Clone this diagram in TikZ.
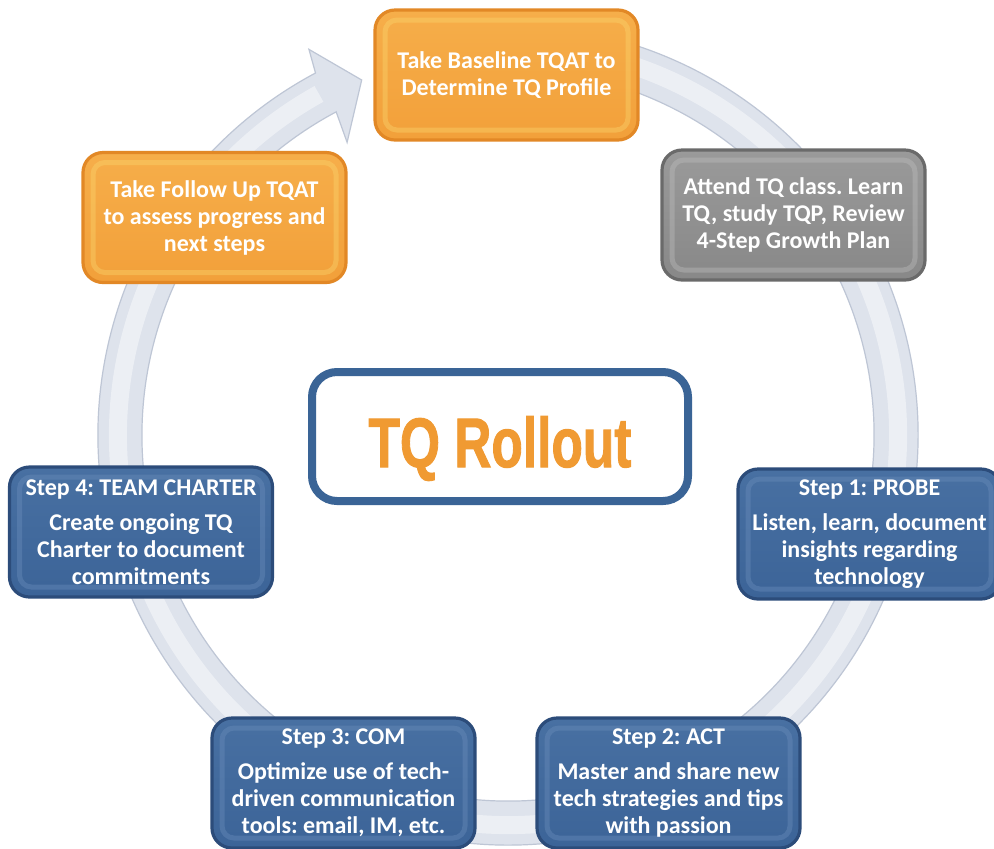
\documentclass[tikz,border=0pt]{standalone}
\usepackage{fontspec}
\setmainfont{Carlito}
\newfontfamily\titlefont[BoldFeatures={FakeBold=1.6}]{Liberation Sans}
\frenchspacing

% couleurs
\definecolor{OrangeFill}{RGB}{242,160,58}
\definecolor{OrangeTop}{RGB}{246,174,74}
\definecolor{OrangeRim}{RGB}{226,136,38}
\definecolor{OrangeLight}{RGB}{250,214,110}
\definecolor{GrayFill}{RGB}{136,136,136}
\definecolor{GrayTop}{RGB}{154,154,154}
\definecolor{GrayRim}{RGB}{106,106,106}
\definecolor{GrayLight}{RGB}{190,190,190}
\definecolor{BlueFill}{RGB}{60,100,152}
\definecolor{BlueTop}{RGB}{72,112,162}
\definecolor{BlueRim}{RGB}{44,76,122}
\definecolor{BlueLight}{RGB}{108,142,188}
\definecolor{TitleOrange}{RGB}{240,154,50}
\definecolor{TitleBlue}{RGB}{58,100,150}
\definecolor{RingFill}{RGB}{222,227,236}
\definecolor{RingEdge}{RGB}{190,198,213}

\begin{document}
\begin{tikzpicture}[x=0.5pt,y=-0.5pt,
    box/.style={rounded corners=10pt, minimum width=131.5pt, minimum height=65pt,
        inner sep=0pt, line width=1.6pt, text=white, align=center,
        font=\fontsize{12}{13.5}\selectfont\bfseries},
    bevel/.style={path picture={\draw[#1, line width=2.5pt, opacity=.4, rounded corners=6pt]
        ([xshift=5pt,yshift=-5pt]path picture bounding box.north west) rectangle
        ([xshift=-5pt,yshift=5pt]path picture bounding box.south east);}},
    orangebox/.style={box, draw=OrangeRim, top color=OrangeTop, bottom color=OrangeFill, bevel=OrangeLight},
    graybox/.style={box, draw=GrayRim, top color=GrayTop, bottom color=GrayFill, bevel=GrayLight},
    bluebox/.style={box, draw=BlueRim, top color=BlueTop, bottom color=BlueFill, bevel=BlueLight},
    rollbox/.style={draw=TitleBlue, line width=4pt, fill=white, rounded corners=12.5pt,
        minimum width=188pt, minimum height=64.5pt, text=TitleOrange,
        text height=30.5pt, text depth=0pt}
]
\useasboundingbox (0,0) rectangle (994,848);
\clip (0,0) rectangle (994,848);
\fill[white] (0,0) rectangle (994,848);

% anneau avec la fleche
\def\RingIn{366}
\def\RingOut{410}
\begin{scope}[shift={(508,435)}, yscale=-1]
    \fill[RingFill, draw=RingEdge, line width=.6pt] (75:\RingOut)
        arc[start angle=75, end angle=-242, radius=\RingOut]
        -- (-242.7:434) -- (-247.6:384) -- (-241.2:334) -- (-242:\RingIn)
        arc[start angle=-242, end angle=75, radius=\RingIn] -- cycle;
    % reflet
    \draw[white, opacity=.45, line width=9pt] (75:390) arc[start angle=75, end angle=-241, radius=390];
\end{scope}

% cadre central
\node[rollbox] (rollout) at (500,436.5)
    {\titlefont\bfseries\fontsize{35}{35}\selectfont\scalebox{0.735}[1]{TQ Rollout}};

% etapes du haut
\node[orangebox] (baseline) at (506.5,75) {Take Baseline TQAT to\\Determine TQ Profile};
\node[graybox] (tqclass) at (793.5,215) {Attend TQ class. Learn\\TQ, study TQP, Review\\4-Step Growth Plan};
\node[orangebox] (followup) at (214.5,217.5) {Take Follow Up TQAT\\to assess progress and\\next steps};

% les quatre etapes
\foreach \n/\x/\y/\head/\body in {%
    probe/869.5/534/{Step 1: PROBE}/{Listen, learn, document\\insights regarding\\technology},%
    act/668.5/783/{Step 2: ACT}/{Master and share new\\tech strategies and tips\\with passion},%
    com/343.5/783/{Step 3: COM}/{Optimize use of tech-\\driven communication\\tools: email, IM, etc.},%
    charter/141/532/{Step 4: TEAM CHARTER}/{Create ongoing TQ\\Charter to document\\commitments}%
}{
    \node[bluebox] (\n) at (\x,\y) {\head\\[4pt]\body};
}
\end{tikzpicture}
\end{document}
